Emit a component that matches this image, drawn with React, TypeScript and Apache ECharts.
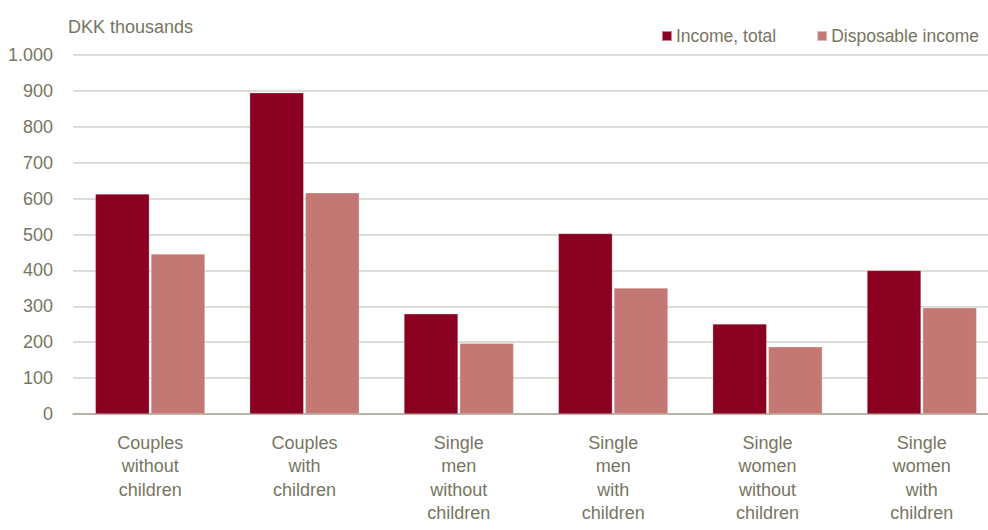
import React, { useEffect, useRef } from "react";
import * as echarts from "echarts";

const categories = [
  "Couples\nwithout\nchildren",
  "Couples\nwith\nchildren",
  "Single\nmen\nwithout\nchildren",
  "Single\nmen\nwith\nchildren",
  "Single\nwomen\nwithout\nchildren",
  "Single\nwomen\nwith\nchildren",
];
const incomeTotal = [613, 895, 279, 503, 251, 400];
const disposableIncome = [446, 616, 197, 351, 187, 296];
const seriesNames = ["Income, total", "Disposable income"];
const unitLabel = "DKK thousands";

const FONT = '"Liberation Sans", Arial, sans-serif';
const TEXT = "#77755f";
const FS = 18;

export default function App() {
  const ref = useRef<HTMLDivElement>(null);
  useEffect(() => {
    if (!ref.current) return;
    const chart = echarts.init(ref.current, undefined, { renderer: "svg" });
    chart.setOption({
      animation: false,
      backgroundColor: "#ffffff",
      textStyle: { fontFamily: FONT },
      title: {
        text: unitLabel,
        left: 63,
        top: 13,
        textStyle: { fontFamily: FONT, fontSize: FS, fontWeight: "normal", color: TEXT },
      },
      legend: {
        orient: "horizontal",
        right: 4,
        top: 22,
        icon: "rect",
        itemWidth: 10,
        itemHeight: 10,
        itemGap: 40,
        textStyle: { fontFamily: FONT, fontSize: 17.5, color: TEXT, padding: [0, 0, 0, -1] },
        data: seriesNames,
      },
      grid: { left: 73, width: 926, top: 55, bottom: 116, outerBoundsMode: "none" },
      xAxis: {
        type: "category",
        data: categories,
        axisLine: { lineStyle: { color: "#a9a793", width: 1.5 } },
        axisTick: { show: false },
        axisLabel: {
          fontFamily: FONT,
          fontSize: FS,
          color: TEXT,
          lineHeight: 23.5,
          margin: 17,
          align: "center",
        },
      },
      yAxis: {
        type: "value",
        min: 0,
        max: 1000,
        interval: 100,
        axisLine: { show: false },
        axisTick: { show: false },
        splitLine: { lineStyle: { color: "#d3d1c8", width: 1.5 } },
        axisLabel: {
          fontFamily: FONT,
          fontSize: FS,
          color: TEXT,
          margin: 20,
          formatter: (v: number) => v.toLocaleString("de-DE"),
        },
      },
      series: [
        {
          name: seriesNames[0],
          type: "bar",
          data: incomeTotal,
          barWidth: 54,
          barGap: "3%",
          itemStyle: { color: "#8a0021", borderColor: "rgba(255,255,255,0.5)", borderWidth: 0.5 },
        },
        {
          name: seriesNames[1],
          type: "bar",
          data: disposableIncome,
          barWidth: 54,
          barGap: "3%",
          itemStyle: { color: "#c47873", borderColor: "rgba(255,255,255,0.5)", borderWidth: 0.5 },
        },
      ],
    });
    return () => chart.dispose();
  }, []);
  return (
    <div
      ref={ref}
      style={{ position: "absolute", left: 0, top: 0, width: 988, height: 530 }}
    />
  );
}
